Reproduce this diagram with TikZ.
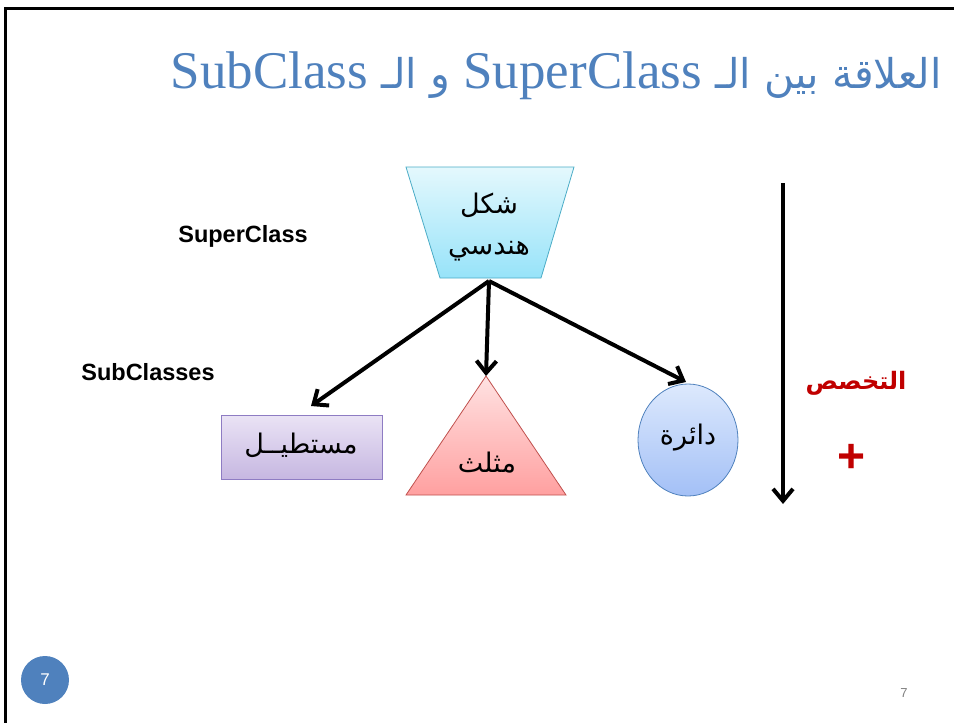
\documentclass[tikz,border=0pt]{standalone}
\usepackage{fontspec}
\setmainfont{Liberation Serif}
\newfontfamily\arabicfont[Script=Arabic]{DejaVu Sans}
\newfontfamily\latinsans{Liberation Sans}
\TeXXeTstate=1
\usetikzlibrary{arrows.meta,shapes.geometric}

\definecolor{titleblue}{HTML}{4F81BD}
\definecolor{trapTop}{HTML}{E4F8FD}
\definecolor{trapBot}{HTML}{97E3F9}
\definecolor{trapLine}{HTML}{4BACC6}
\definecolor{rectTop}{HTML}{EAE3F5}
\definecolor{rectBot}{HTML}{C6B7E1}
\definecolor{rectLine}{HTML}{8E7CC3}
\definecolor{triTop}{HTML}{FFE2E2}
\definecolor{triBot}{HTML}{FFA0A0}
\definecolor{triLine}{HTML}{C0504D}
\definecolor{circTop}{HTML}{DDE9FD}
\definecolor{circBot}{HTML}{A3C0F6}
\definecolor{circLine}{HTML}{4F81BD}
\definecolor{specred}{HTML}{C00000}

\tikzset{
  arabiclabel/.style={font=\arabicfont\fontsize{27}{32}\selectfont, inner sep=0pt},
  boldlabel/.style={font=\latinsans\bfseries\fontsize{23.5}{28}\selectfont, inner sep=0pt},
  inherit/.style={line width=4pt, -{Straight Barb[length=12pt,width=20pt]}},
}

\begin{document}
\begin{tikzpicture}[x=1pt,y=-1pt]
\useasboundingbox (0,0) rectangle (954,723);

% slide frame
\draw[line width=3pt] (5,723) -- (5,8) -- (954,8);

% title
\node[anchor=base east, inner sep=0pt, text=titleblue] (title) at (942,88)
  {\fontsize{53}{60}\selectfont\beginR{\arabicfont\fontsize{41}{48}\selectfont العلاقة بين الـ} \beginL SuperClass\endL{} {\arabicfont\fontsize{41}{48}\selectfont و الـ} \beginL SubClass\endL\endR};

% superclass: trapezoid
\path[draw=trapLine, line width=0.8pt, top color=trapTop, bottom color=trapBot]
  (406,167) -- (574,167) -- (541,278) -- (440,278) -- cycle;
\node[arabiclabel] (shape1) at (489,205) {\beginR شكل\endR};
\node[arabiclabel] (shape2) at (489,251) {\beginR هندسي\endR};
\coordinate (root) at (489,281);

% subclasses
\node[draw=rectLine, line width=0.8pt, top color=rectTop, bottom color=rectBot,
      minimum width=161pt, minimum height=64pt, inner sep=0pt] (rect) at (301.5,447) {};
\node[arabiclabel] (recttext) at (301,445) {\beginR مستطيــل\endR};

\path[draw=triLine, line width=0.8pt, top color=triTop, bottom color=triBot]
  (486,376) -- (566,495) -- (406,495) -- cycle;
\coordinate (apex) at (486,376);
\node[arabiclabel] (tritext) at (487,463) {\beginR مثلث\endR};

\node[ellipse, draw=circLine, line width=0.8pt, top color=circTop, bottom color=circBot,
      minimum width=100pt, minimum height=112pt, inner sep=0pt] (circ) at (688,440) {};
\node[arabiclabel] (circtext) at (688,438) {\beginR دائرة\endR};

\coordinate (recttip) at (311,406);
\coordinate (circtip) at (686,382);

% inheritance arrows
\draw[inherit] (root) -- (recttip);
\draw[inherit] (root) -- (apex);
\draw[inherit] (root) -- (circtip);

% side labels
\node[boldlabel] (superlbl) at (243,236) {SuperClass};
\node[boldlabel] (sublbl) at (148,372) {SubClasses};

% specialisation direction
\coordinate (spectop) at (783,183);
\coordinate (specbot) at (783,504);
\draw[inherit] (spectop) -- (specbot);
\node[text=specred, font=\arabicfont\bfseries\fontsize{24}{28}\selectfont, inner sep=0pt] (spec) at (856,383) {\beginR التخصص\endR};
\node[text=specred, font=\latinsans\bfseries\fontsize{48}{50}\selectfont, inner sep=0pt] (plus) at (852,458) {+};

% slide number badge and footer number
\node[circle, fill=titleblue, minimum size=48pt, inner sep=0pt, text=white,
      font=\latinsans\fontsize{17}{18}\selectfont] (badge) at (45,680) {7};
\node[text=gray, font=\latinsans\fontsize{13}{14}\selectfont, inner sep=0pt] (pagenum) at (904,693) {7};
\end{tikzpicture}
\end{document}
